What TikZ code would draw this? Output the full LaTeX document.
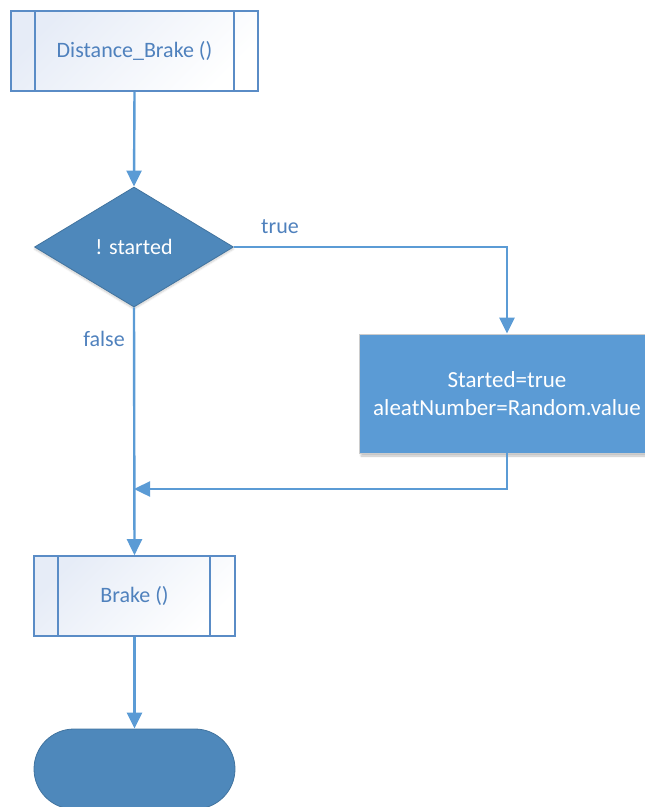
\documentclass[tikz,border=0pt]{standalone}
\usepackage{fontspec}
\setmainfont{Carlito}
\usetikzlibrary{arrows.meta,shapes.geometric,shadows.blur}
\definecolor{flowline}{HTML}{5B9BD5}
\definecolor{deepblue}{HTML}{4E88BB}
\definecolor{subedge}{HTML}{5A8CC6}
\definecolor{subtext}{HTML}{4F81BD}
\definecolor{subfill}{HTML}{E6ECF7}
\tikzset{
  flow/.style={draw=flowline, line width=2.4pt, -{Triangle[length=16pt,width=15pt]}},
  subbox/.style={draw=subedge, line width=1.6pt, minimum width=247pt, minimum height=80pt,
    top color=subfill, bottom color=white, shading angle=45, text=subtext,
    font=\fontsize{22}{26}\selectfont},
  decision/.style={diamond, draw=deepblue!85!black, line width=0.8pt, fill=deepblue, aspect=1.66,
    minimum width=199pt, minimum height=120pt, inner sep=0pt, text=white,
    font=\fontsize{22}{26}\selectfont,
    blur shadow={shadow blur steps=6, shadow xshift=0pt, shadow yshift=-2pt, shadow opacity=20}},
  process/.style={draw=black!20, line width=0.8pt, fill=flowline, minimum width=296pt, minimum height=119pt,
    text=white, align=center, font=\fontsize{23}{28}\selectfont,
    blur shadow={shadow blur steps=6, shadow xshift=2pt, shadow yshift=-3pt, shadow opacity=25}},
  terminal/.style={draw=deepblue!85!black, line width=0.8pt, fill=deepblue, rounded corners=40pt,
    minimum width=201pt, minimum height=80pt},
  lbl/.style={text=subtext, font=\fontsize{22}{26}\selectfont}
}
\begin{document}
\begin{tikzpicture}[x=1pt, y=-1pt]
\useasboundingbox (0,0) rectangle (645,807);
\begin{scope}
\clip (0,0) rectangle (645,807);
% subroutine Distance_Brake
\node[subbox] (start) at (134.5,51) {Distance\_Brake ()};
\draw[subedge, line width=1.6pt] (35,11) -- (35,91) (234,11) -- (234,91);
% decision
\node[decision] (dec) at (134,247) {! started};
% process
\node[process] (proc) at (507,393.5) {Started=true\\aleatNumber=Random.value};
% subroutine Brake
\node[subbox, minimum width=201pt] (brake) at (134.5,596) {Brake ()};
\draw[subedge, line width=1.6pt] (58,556) -- (58,636) (210,556) -- (210,636);
% terminator
\node[terminal] (end) at (134.5,769) {};
\coordinate (join) at (134,489);
% connectors
\draw[flow] (start.south) -- (dec.north);
\draw[flow] (dec.east) -| (proc.north);
\draw[flow] (proc.south) |- (join);
\draw[flow] (dec.south) -- (brake.north);
\draw[flow] (brake.south) -- (end.north);
\node[lbl] at (280,227) {true};
\node[lbl] at (104,339) {false};
\end{scope}
\end{tikzpicture}
\end{document}
